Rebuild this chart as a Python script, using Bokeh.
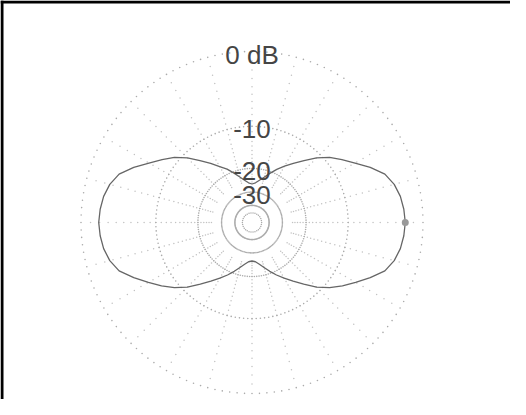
import numpy as np
from bokeh.plotting import figure
from bokeh.models import Range1d, Span
from bokeh.embed import file_html
from bokeh.resources import INLINE
from bokeh.core.properties import value

# ---- data ----
angle_deg = list(range(0, 365, 5))
level_db = [-1.9, -2.0, -2.2, -2.6, -3.3, -4.7, -6.3, -7.7, -9.1, -10.9,
            -13.0, -15.0, -16.8, -18.6, -20.6, -22.5, -24.0, -25.3, -25.9,
            -25.3, -24.0, -22.4, -20.5, -18.5, -16.9, -15.0, -13.0, -10.9,
            -9.1, -7.7, -6.3, -4.7, -3.3, -2.6, -2.2, -2.0, -1.9,
            -2.0, -2.2, -2.6, -3.3, -4.7, -6.2, -7.6, -9.1, -10.9,
            -13.1, -15.1, -17.0, -18.8, -20.7, -22.6, -24.2, -25.5, -25.9,
            -25.5, -24.2, -22.6, -20.7, -18.8, -17.0, -15.1, -13.1, -10.9,
            -9.1, -7.6, -6.2, -4.7, -3.3, -2.6, -2.2, -2.0, -1.9]
marker_angle = [0]
marker_db = [-1.9]
ring_db = [0, -10, -20, -30, -40]
inner_ring_db = [-50]
label_db = [0, -10, -20, -30]
label_text = ["0 dB", "-10", "-20", "-30"]
spoke_step_deg = 15
lattice_db = list(range(-1, -26, -1))

# ---- radial scale: 0 dB at outer radius, 10 dB per factor 10^(1/4) ----
R = 171.0
def rad(db):
    return R * 10 ** (np.asarray(db, dtype=float) / 40.0)

def xy(ang, db):
    a = np.radians(np.asarray(ang, dtype=float))
    r = rad(db)
    return r * np.cos(a), r * np.sin(a)

W, H = 510, 399
cx, cy = 251.5, 222.0
p = figure(width=W, height=H, output_backend="svg", toolbar_location=None,
           x_range=Range1d(-cx, W - cx), y_range=Range1d(-(H - cy), cy),
           x_axis_location=None, y_axis_location=None, min_border=0,
           background_fill_color="white", border_fill_color="white")
p.grid.visible = False
p.outline_line_color = None

# lattice of faint dots (spokes x dB levels)
la, ld = np.meshgrid(np.arange(0, 360, spoke_step_deg), lattice_db)
lx, ly = xy(la.ravel(), ld.ravel())
p.scatter(lx, ly, size=1.5, color="#c2c2c2", line_color=None)

# main rings as dotted circles
ang_fine = np.arange(0, 360, 2.5)
for db in ring_db:
    rx, ry = xy(ang_fine, np.full(ang_fine.shape, db))
    p.scatter(rx, ry, size=1.6, color="#ababab", line_color=None)
for db in inner_ring_db:
    a2 = np.arange(0, 360, 12)
    rx, ry = xy(a2, np.full(a2.shape, db))
    p.scatter(rx, ry, size=1.5, color="#ababab", line_color=None)

# pattern curve
px, py = xy(angle_deg, level_db)
p.line(px, py, line_color="#666666", line_width=1.3)
mx, my = xy(marker_angle, marker_db)
p.scatter(mx, my, size=7, color="#999999", line_color=None)

# ring labels
tx = np.zeros(len(label_db))
ty = rad(label_db) - 3
p.text(tx, ty, text=label_text, text_align="center", text_baseline="middle",
       text_font=value("Liberation Sans"), text_font_size="26px",
       text_color="#454545")

# black frame on left and top
p.add_layout(Span(location=-cx + 1.5, dimension="height", line_color="black", line_width=3))
p.add_layout(Span(location=cy - 1.5, dimension="width", line_color="black", line_width=3))

open("out.html", "w").write(file_html(p, INLINE))
